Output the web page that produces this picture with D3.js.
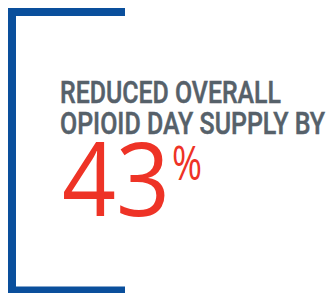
<!DOCTYPE html>
<html><head><meta charset="utf-8">
<script src="https://cdn.jsdelivr.net/npm/d3@7"></script>
<style>html,body{margin:0;padding:0;background:#fff;}svg{display:block;}</style>
</head><body>
<script>
const headline = ["REDUCED OVERALL", "OPIOID DAY SUPPLY BY"];
const values = [43];
const unit = ["%"];

const W = 328, H = 293;
const svg = d3.select("body").append("svg").attr("width", W).attr("height", H);

const blue = "#0a4f9c", grey = "#56616a", red = "#ee3326";

// bracket
const bracket = d3.path();
bracket.moveTo(125, 12); bracket.lineTo(12, 12); bracket.lineTo(12, 290.5); bracket.lineTo(125, 290.5);
svg.append("path").attr("d", bracket.toString()).attr("fill", "none")
  .attr("stroke", blue).attr("stroke-width", 8).attr("stroke-linejoin", "miter");

const y = d3.scaleLinear().domain([0, 1]).range([102.5, 133.5]);
const widths = [221, 265];
svg.selectAll("text.h").data(headline).join("text").attr("class", "h")
  .attr("x", 60).attr("y", (d, i) => y(i))
  .attr("font-family", "Roboto,sans-serif")
  .attr("font-weight", 500).attr("font-size", 31).attr("fill", grey)
  .attr("stroke", grey).attr("stroke-width", 0.5)
  .attr("textLength", (d, i) => widths[i]).attr("lengthAdjust", "spacingAndGlyphs")
  .text(d => d);

svg.selectAll("text.v").data(values).join("text").attr("class", "v")
  .attr("x", 62).attr("y", 216)
  .attr("font-family", "'Open Sans',sans-serif").attr("font-weight", 400)
  .attr("font-size", 102).attr("fill", red)
  .attr("textLength", 108).attr("lengthAdjust", "spacingAndGlyphs")
  .text(d => d);

svg.selectAll("text.u").data(unit).join("text").attr("class", "u")
  .attr("x", 172).attr("y", 180)
  .attr("font-family", "'Open Sans',sans-serif").attr("font-weight", 400)
  .attr("font-size", 48).attr("fill", red)
  .attr("textLength", 30).attr("lengthAdjust", "spacingAndGlyphs")
  .text(d => d);
</script>
</body></html>
